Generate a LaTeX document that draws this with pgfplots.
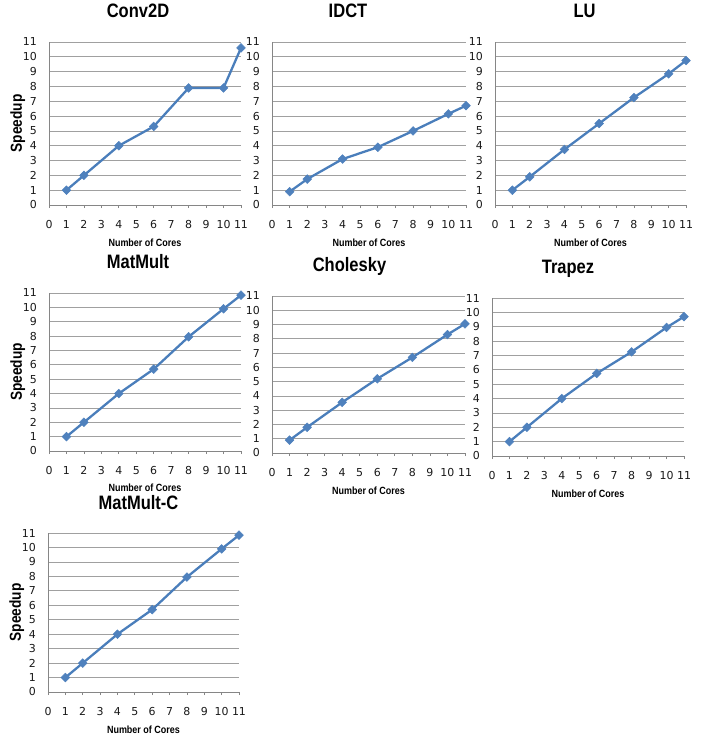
\documentclass[border=0pt]{standalone}
\usepackage{fontspec}
\setmainfont{DejaVu Sans}
\newfontfamily\titlefont{Liberation Sans}[FakeStretch=0.85]
\newfontfamily\labfont{Liberation Sans}[FakeStretch=0.86]
\usepackage{pgfplots}
\pgfplotsset{compat=1.18}
\definecolor{serblue}{HTML}{4A7EBB}
\definecolor{mkblue}{HTML}{4F81BD}
\definecolor{gridgray}{HTML}{A0A0A0}
\definecolor{axgray}{HTML}{868686}
\pgfplotsset{
  speed/.style={
    scale only axis,
    anchor=south west,
    xmin=0, xmax=11, ymin=0, ymax=11,
    xtick={0,...,11}, ytick={0,...,11},
    axis lines*=left,
    axis line style={axgray, line width=0.8pt, -},
    ymajorgrids,
    major grid style={gridgray, line width=0.7pt},
    tick align=outside,
    xtick style={axgray, line width=0.7pt},
    major tick length=3bp,
    ytick style={draw=none},
    /pgf/number format/assume math mode=true,
    tick label style={font=\fontsize{11}{13}\selectfont, text=black!90},
    xticklabel style={anchor=base, yshift=-20bp},
    yticklabel style={anchor=east, inner sep=0pt, xshift=-9bp},
    title style={at={(0.5,1)}, anchor=base, inner sep=0pt, yshift=18.5bp, font=\titlefont\bfseries\fontsize{19.5}{21}\selectfont},
    xlabel style={at={(0.5,0)}, anchor=base, inner sep=0pt, yshift=-41.5bp, font=\labfont\bfseries\fontsize{10.5}{12}\selectfont},
    ylabel style={at={(-0.163,0.5)}, anchor=center, font=\labfont\bfseries\fontsize{16}{18}\selectfont},
    xlabel={Number of Cores},
  },
  ser/.style={color=serblue, line width=2.3pt, mark=square*, mark size=3.1pt,
    mark options={fill=mkblue, draw=mkblue, line width=0.5pt, rotate=45}},
}
\begin{document}
\begin{tikzpicture}
\path[use as bounding box] (0,0) rectangle (705bp,-736bp);
% Conv2D
\begin{axis}[speed, at={(49bp,-205bp)}, width=192bp, height=163bp,
  title={Conv2D}, title style={xshift=-7bp}, ylabel={Speedup}]
\addplot[ser] coordinates {(1,1) (2,2) (4,4) (6,5.3) (8,7.9) (10,7.9) (11,10.6)};
\end{axis}
% IDCT
\begin{axis}[speed, at={(272bp,-205bp)}, width=194bp, height=163bp,
  title={IDCT}, title style={xshift=-21bp}]
\addplot[ser] coordinates {(1,0.9) (2,1.75) (4,3.1) (6,3.9) (8,5.0) (10,6.15) (11,6.7)};
\end{axis}
% LU
\begin{axis}[speed, at={(495bp,-205bp)}, width=191bp, height=163bp,
  title={LU}, title style={xshift=-6bp}]
\addplot[ser] coordinates {(1,1.0) (2,1.9) (4,3.75) (6,5.5) (8,7.25) (10,8.85) (11,9.75)};
\end{axis}
% MatMult
\begin{axis}[speed, at={(49bp,-451bp)}, width=192bp, height=158bp,
  title={MatMult}, title style={xshift=-7bp}, ylabel={Speedup},
  xlabel style={yshift=1.5bp}]
\addplot[ser] coordinates {(1,1) (2,2) (4,4) (6,5.7) (8,7.95) (10,9.9) (11,10.85)};
\end{axis}
% Cholesky
\begin{axis}[speed, at={(272bp,-453bp)}, width=193bp, height=157bp,
  title={Cholesky}, title style={xshift=-19bp}]
\addplot[ser] coordinates {(1,0.9) (2,1.8) (4,3.55) (6,5.2) (8,6.7) (10,8.3) (11,9.05)};
\end{axis}
% Trapez
\begin{axis}[speed, at={(492bp,-456bp)}, width=192bp, height=158bp,
  title={Trapez}, title style={xshift=-20bp}]
\addplot[ser] coordinates {(1,1) (2,2) (4,4) (6,5.75) (8,7.25) (10,8.95) (11,9.7)};
\end{axis}
% MatMult-C
\begin{axis}[speed, at={(48bp,-692bp)}, width=191bp, height=159bp,
  title={MatMult-C}, title style={xshift=-5bp, yshift=-1bp}, ylabel={Speedup}]
\addplot[ser] coordinates {(1,1) (2,2) (4,4) (6,5.7) (8,7.95) (10,9.9) (11,10.85)};
\end{axis}
\end{tikzpicture}
\end{document}
